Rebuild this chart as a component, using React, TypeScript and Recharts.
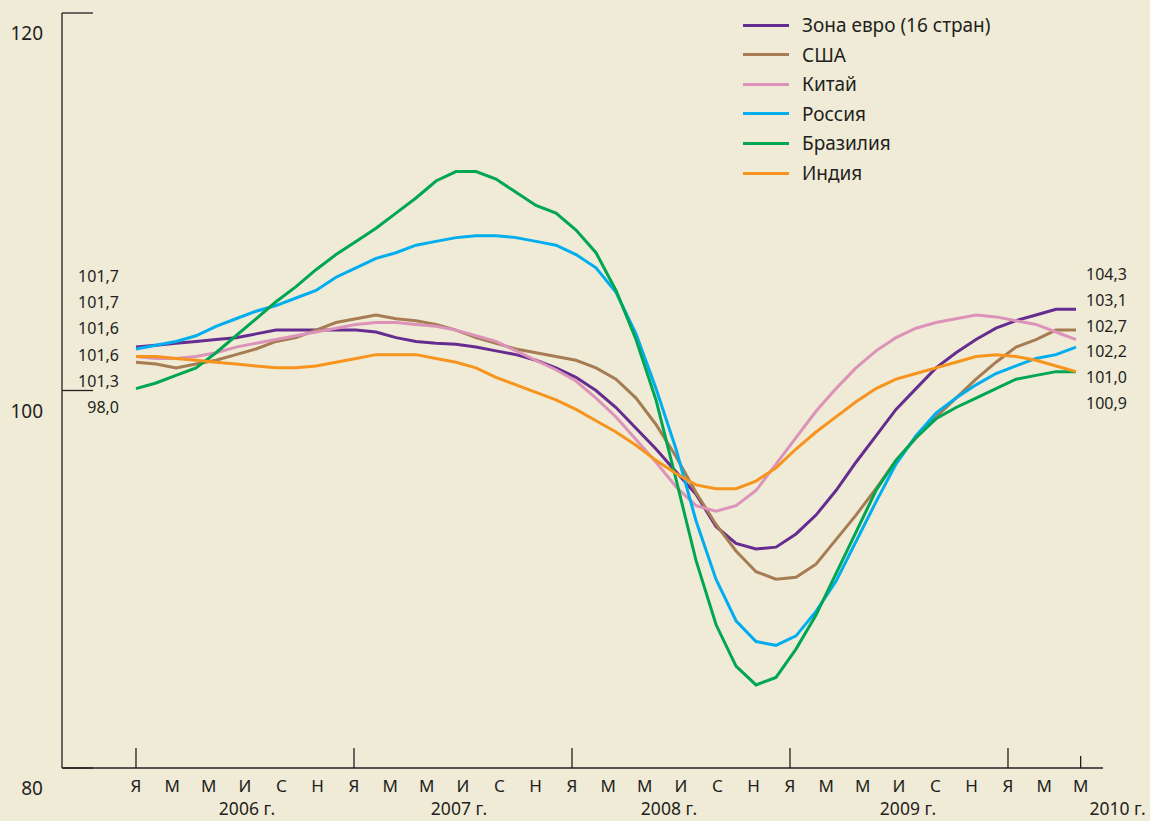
import { LineChart, Line, XAxis, YAxis } from "recharts";

// monthly index values (first point = январь 2006)
const euro = [
  102.3, 102.4, 102.5, 102.6, 102.7, 102.8, 103.0, 103.2, 103.2, 103.2, 103.2, 103.2,
  103.1, 102.8, 102.6, 102.5, 102.45, 102.3, 102.1, 101.9, 101.6, 101.2, 100.7, 100.0,
  99.1, 98.0, 96.9, 95.7, 94.5, 92.8, 91.9, 91.6, 91.7, 92.4, 93.4, 94.7,
  96.2, 97.6, 99.0, 100.1, 101.2, 102.0, 102.7, 103.3, 103.7, 104.0, 104.3, 104.3,
];
const usa = [
  101.5, 101.4, 101.2, 101.4, 101.6, 101.9, 102.2, 102.6, 102.8, 103.2, 103.6, 103.8,
  104.0, 103.8, 103.7, 103.5, 103.2, 102.8, 102.5, 102.2, 102.0, 101.8, 101.6, 101.2,
  100.6, 99.6, 98.2, 96.5, 94.6, 92.9, 91.5, 90.4, 90.0, 90.1, 90.8, 92.1,
  93.4, 94.8, 96.3, 97.5, 98.6, 99.6, 100.6, 101.5, 102.3, 102.7, 103.2, 103.2,
];
const china = [
  101.8, 101.7, 101.7, 101.8, 102.0, 102.3, 102.5, 102.7, 102.9, 103.1, 103.3, 103.5,
  103.6, 103.6, 103.5, 103.4, 103.2, 102.9, 102.6, 102.1, 101.6, 101.1, 100.5, 99.6,
  98.6, 97.4, 96.2, 94.9, 93.9, 93.6, 93.9, 94.7, 96.1, 97.5, 98.9, 100.1,
  101.2, 102.1, 102.8, 103.3, 103.6, 103.8, 104.0, 103.9, 103.7, 103.5, 103.1, 102.7,
];
const russia = [
  102.2, 102.4, 102.6, 102.9, 103.4, 103.8, 104.2, 104.5, 104.9, 105.3, 106.0, 106.5,
  107.0, 107.3, 107.7, 107.9, 108.1, 108.2, 108.2, 108.1, 107.9, 107.7, 107.2, 106.5,
  105.2, 103.0, 100.1, 96.9, 93.1, 90.0, 87.8, 86.7, 86.5, 87.0, 88.3, 89.9,
  92.0, 94.1, 96.1, 97.6, 98.8, 99.6, 100.3, 100.9, 101.3, 101.7, 101.9, 102.3,
];
const brazil = [
  100.1, 100.4, 100.8, 101.2, 102.0, 102.9, 103.8, 104.7, 105.5, 106.4, 107.2, 107.9,
  108.6, 109.4, 110.2, 111.1, 111.6, 111.6, 111.2, 110.5, 109.8, 109.4, 108.5, 107.3,
  105.3, 102.7, 99.5, 95.3, 91.0, 87.6, 85.4, 84.4, 84.8, 86.3, 88.1, 90.3,
  92.5, 94.7, 96.3, 97.5, 98.5, 99.1, 99.6, 100.1, 100.6, 100.8, 101.0, 101.0,
];
const india = [
  101.8, 101.8, 101.7, 101.6, 101.5, 101.4, 101.3, 101.2, 101.2, 101.3, 101.5, 101.7,
  101.9, 101.9, 101.9, 101.7, 101.5, 101.2, 100.7, 100.3, 99.9, 99.5, 99.0, 98.4,
  97.8, 97.1, 96.3, 95.6, 95.0, 94.8, 94.8, 95.2, 95.9, 96.9, 97.8, 98.6,
  99.4, 100.1, 100.6, 100.9, 101.2, 101.5, 101.8, 101.9, 101.8, 101.6, 101.3, 101.0,
];

const seriesNames = ["Зона евро (16 стран)", "США", "Китай", "Россия", "Бразилия", "Индия"];
const startLabels = ["101,7", "101,7", "101,6", "101,6", "101,3", "98,0"];
const endLabels = ["104,3", "103,1", "102,7", "102,2", "101,0", "100,9"];
const monthLetters = ["Я", "М", "М", "И", "С", "Н"];
const monthTicks = [0, 2, 4, 6, 8, 10, 12, 14, 16, 18, 20, 22, 24, 26, 28, 30, 32, 34, 36, 38, 40, 42, 44, 46, 48, 50, 52];
const yearLabels = ["2006 г.", "2007 г.", "2008 г.", "2009 г.", "2010 г."];
const yTicks = [80, 100, 120];

const INK = "#231f20";
const BG = "#f0ebd6";
const FONT = "'Noto Sans', 'Open Sans', sans-serif";

const series = [
  { key: "euro", name: seriesNames[0], values: euro, color: "#662d91" },
  { key: "usa", name: seriesNames[1], values: usa, color: "#a67c52" },
  { key: "china", name: seriesNames[2], values: china, color: "#dc93b9" },
  { key: "russia", name: seriesNames[3], values: russia, color: "#00aeef" },
  { key: "brazil", name: seriesNames[4], values: brazil, color: "#00a651" },
  { key: "india", name: seriesNames[5], values: india, color: "#f7941d" },
];

const rows = euro.map((_, i) => {
  const r: Record<string, number> = { i };
  series.forEach((s) => (r[s.key] = s.values[i]));
  return r;
});

// nudges for year captions (px), original layout is not quite regular
const yearNudge = [2, -4, -12, 9];

function YTick({ x, y, payload }: any) {
  return (
    <g>
      <line x1={x} x2={x + 31} y1={y} y2={y} stroke={INK} strokeWidth={1.3} />
      <text x={x - 19} y={y + 20} textAnchor="end" dominantBaseline="central" fontSize={19} fill={INK} fontFamily={FONT}>
        {payload.value}
      </text>
    </g>
  );
}

function MonthTick({ x, y, payload }: any) {
  const m = payload.value as number;
  const letter = monthLetters[(m % 12) / 2];
  const yearIdx = m % 12 === 6 ? (m - 6) / 12 : -1;
  return (
    <g fontFamily={FONT} fill={INK}>
      {m % 12 === 0 && <line x1={x} x2={x} y1={y} y2={y - 20} stroke={INK} strokeWidth={1.3} />}
      {m === 52 && <line x1={x} x2={x} y1={y} y2={y - 12} stroke={INK} strokeWidth={1.3} />}
      <text x={x} y={y + 17} textAnchor="middle" dominantBaseline="central" fontSize={17}>
        {letter}
      </text>
      {yearIdx >= 0 && yearIdx < 4 && (
        <text x={x + yearNudge[yearIdx]} y={y + 40} textAnchor="middle" dominantBaseline="central" fontSize={17.5}>
          {yearLabels[yearIdx]}
        </text>
      )}
      {m === 52 && (
        <text x={x + 37} y={y + 40} textAnchor="middle" dominantBaseline="central" fontSize={17.5}>
          {yearLabels[4]}
        </text>
      )}
    </g>
  );
}

export default function App() {
  return (
    <div style={{ width: 1150, height: 821, background: BG, position: "relative", fontFamily: FONT, color: INK }}>
      <style>{`body{margin:0}`}</style>
      <LineChart width={1150} height={821} data={rows} margin={{ top: 13, right: 47, bottom: 0, left: 0 }}>
        <XAxis
          xAxisId="m"
          type="number"
          dataKey="i"
          domain={[-4.073, 53.23]}
          ticks={monthTicks}
          interval={0}
          height={53}
          tickSize={0}
          tickMargin={0}
          tickLine={false}
          axisLine={{ stroke: INK, strokeWidth: 1.3 }}
          tick={<MonthTick />}
        />
        <XAxis xAxisId="d" dataKey="i" type="number" domain={[-3.7, 48.35]} height={0} hide />
        <YAxis
          type="number"
          domain={[80, 120]}
          ticks={yTicks}
          width={62}
          tickSize={0}
          tickMargin={0}
          tickLine={false}
          axisLine={{ stroke: INK, strokeWidth: 1.3 }}
          tick={<YTick />}
          interval={0}
        />
        {series.map((s) => (
          <Line
            key={s.key}
            xAxisId="d"
            dataKey={s.key}
            name={s.name}
            type="linear"
            stroke={s.color}
            strokeWidth={3}
            dot={false}
            isAnimationActive={false}
          />
        ))}
      </LineChart>

      {/* legend */}
      <div style={{ position: "absolute", left: 743, top: 25 }}>
        {series.map((s, k) => (
          <div key={s.key} style={{ position: "absolute", top: k * 29.6, left: 0, transform: "translateY(-50%)", display: "flex", alignItems: "center", whiteSpace: "nowrap" }}>
            <span style={{ width: 46, height: 3, background: s.color, display: "inline-block" }} />
            <span style={{ marginLeft: 13, fontSize: 19, lineHeight: "22px" }}>{s.name}</span>
          </div>
        ))}
      </div>

      {/* values at the start and end of the period */}
      {startLabels.map((t, k) => (
        <div key={"s" + k} style={{ position: "absolute", right: 1150 - 119, top: 276 + k * 26.2, transform: "translateY(-50%)", fontSize: 16, lineHeight: "20px" }}>
          {t}
        </div>
      ))}
      {endLabels.map((t, k) => (
        <div key={"e" + k} style={{ position: "absolute", left: 1086, top: 274 + k * 25.8, transform: "translateY(-50%)", fontSize: 16, lineHeight: "20px" }}>
          {t}
        </div>
      ))}
    </div>
  );
}
